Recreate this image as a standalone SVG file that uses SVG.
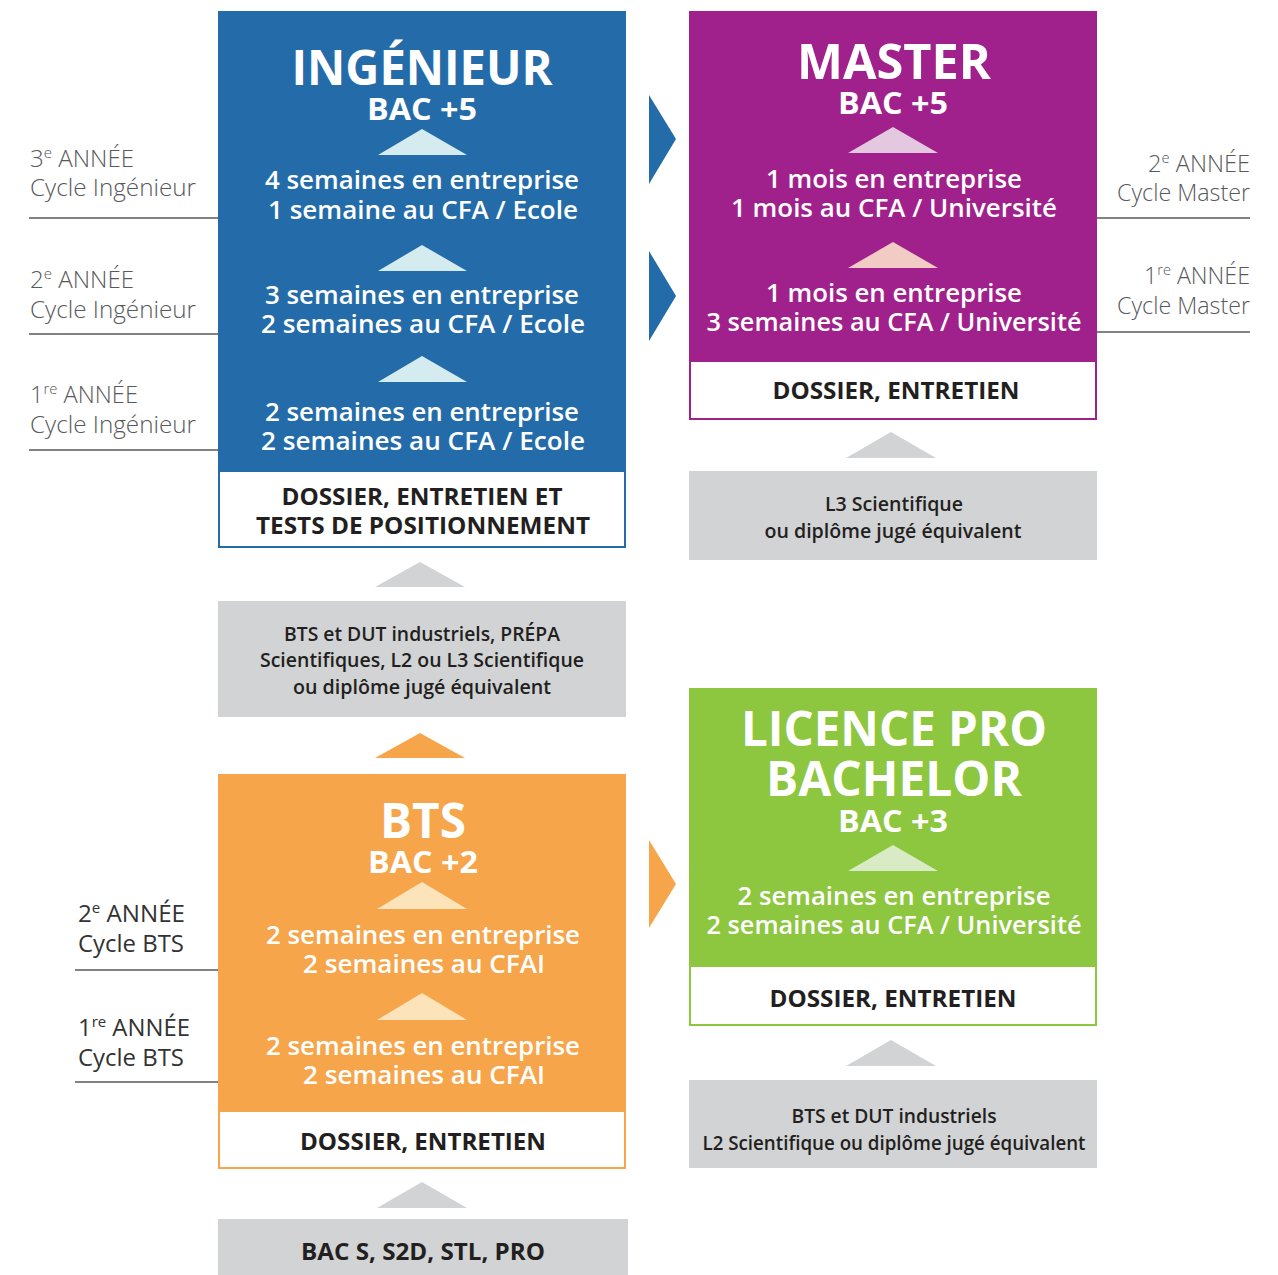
<svg xmlns="http://www.w3.org/2000/svg" width="1278" height="1275" viewBox="0 0 1278 1275">
<style>
text{font-family:"Open Sans","Noto Sans","Liberation Sans",sans-serif;text-anchor:middle}
.t{fill:#fff;font-weight:700;font-size:48px}
.b{fill:#fff;font-weight:700;font-size:30px}
.w{fill:#fff;font-weight:600;font-size:25px}
.d{fill:#231f20;font-weight:700;font-size:23px}
.g{fill:#231f20;font-weight:600;font-size:20px}
.lab{fill:#58595b;font-weight:300;font-size:24px;text-anchor:start}
.labr{fill:#58595b;font-weight:300;font-size:24px;text-anchor:end}
.labb{fill:#333;font-weight:400;font-size:24px;text-anchor:start}
.ln{stroke:#58595b;stroke-width:1.3}
.gt{fill:#d1d3d4}
</style>
<g id="labels-ingenieur">
<text class="lab" x="30" y="167" textLength="104" lengthAdjust="spacingAndGlyphs">3<tspan font-size="15" dy="-9">e</tspan><tspan dy="9"> ANNÉE</tspan></text>
<text class="lab" x="30" y="196" textLength="166" lengthAdjust="spacingAndGlyphs">Cycle Ingénieur</text>
<line class="ln" x1="29" y1="218" x2="218" y2="218"/>
<text class="lab" x="30" y="288" textLength="104" lengthAdjust="spacingAndGlyphs">2<tspan font-size="15" dy="-9">e</tspan><tspan dy="9"> ANNÉE</tspan></text>
<text class="lab" x="30" y="318" textLength="166" lengthAdjust="spacingAndGlyphs">Cycle Ingénieur</text>
<line class="ln" x1="29" y1="334" x2="218" y2="334"/>
<text class="lab" x="30" y="403" textLength="108" lengthAdjust="spacingAndGlyphs">1<tspan font-size="15" dy="-9">re</tspan><tspan dy="9"> ANNÉE</tspan></text>
<text class="lab" x="30" y="433" textLength="166" lengthAdjust="spacingAndGlyphs">Cycle Ingénieur</text>
<line class="ln" x1="29" y1="450" x2="218" y2="450"/>
</g>
<g id="labels-master">
<text class="labr" x="1250" y="172" textLength="102" lengthAdjust="spacingAndGlyphs">2<tspan font-size="15" dy="-9">e</tspan><tspan dy="9"> ANNÉE</tspan></text>
<text class="labr" x="1250" y="201" textLength="133" lengthAdjust="spacingAndGlyphs">Cycle Master</text>
<line class="ln" x1="1097" y1="218" x2="1250" y2="218"/>
<text class="labr" x="1250" y="284" textLength="106" lengthAdjust="spacingAndGlyphs">1<tspan font-size="15" dy="-9">re</tspan><tspan dy="9"> ANNÉE</tspan></text>
<text class="labr" x="1250" y="314" textLength="133" lengthAdjust="spacingAndGlyphs">Cycle Master</text>
<line class="ln" x1="1097" y1="332" x2="1250" y2="332"/>
</g>
<g id="labels-bts">
<text class="labb" x="78" y="922" textLength="107" lengthAdjust="spacingAndGlyphs">2<tspan font-size="15" dy="-9">e</tspan><tspan dy="9"> ANNÉE</tspan></text>
<text class="labb" x="78" y="952" textLength="106" lengthAdjust="spacingAndGlyphs">Cycle BTS</text>
<line class="ln" x1="75" y1="970" x2="218" y2="970"/>
<text class="labb" x="78" y="1036" textLength="112" lengthAdjust="spacingAndGlyphs">1<tspan font-size="15" dy="-9">re</tspan><tspan dy="9"> ANNÉE</tspan></text>
<text class="labb" x="78" y="1066" textLength="106" lengthAdjust="spacingAndGlyphs">Cycle BTS</text>
<line class="ln" x1="75" y1="1082" x2="218" y2="1082"/>
</g>
<g id="ingenieur">
<rect x="218" y="11" width="408" height="461" fill="#236ca9"/>
<rect x="219" y="471" width="406" height="76" fill="#fff" stroke="#236ca9" stroke-width="2"/>
<text class="t" x="422" y="85" textLength="261" lengthAdjust="spacingAndGlyphs">INGÉNIEUR</text>
<text class="b" x="422" y="120" textLength="110" lengthAdjust="spacingAndGlyphs">BAC +5</text>
<polygon points="422,129 467,155 378,155" fill="#d4ecef"/>
<text class="w" x="422" y="189" textLength="314" lengthAdjust="spacingAndGlyphs">4 semaines en entreprise</text>
<text class="w" x="423" y="219" textLength="310" lengthAdjust="spacingAndGlyphs">1 semaine au CFA / Ecole</text>
<polygon points="422,245 467,271 378,271" fill="#d4ecef"/>
<text class="w" x="422" y="304" textLength="314" lengthAdjust="spacingAndGlyphs">3 semaines en entreprise</text>
<text class="w" x="423" y="333" textLength="324" lengthAdjust="spacingAndGlyphs">2 semaines au CFA / Ecole</text>
<polygon points="422,356 467,382 378,382" fill="#d4ecef"/>
<text class="w" x="422" y="421" textLength="314" lengthAdjust="spacingAndGlyphs">2 semaines en entreprise</text>
<text class="w" x="423" y="450" textLength="324" lengthAdjust="spacingAndGlyphs">2 semaines au CFA / Ecole</text>
<text class="d" x="422" y="505" textLength="281" lengthAdjust="spacingAndGlyphs">DOSSIER, ENTRETIEN ET</text>
<text class="d" x="423" y="534" textLength="334" lengthAdjust="spacingAndGlyphs">TESTS DE POSITIONNEMENT</text>
</g>
<g id="master">
<rect x="689" y="11" width="408" height="351" fill="#a0218b"/>
<rect x="690" y="361" width="406" height="58" fill="#fff" stroke="#a0218b" stroke-width="2"/>
<text class="t" x="894" y="79" textLength="194" lengthAdjust="spacingAndGlyphs">MASTER</text>
<text class="b" x="893" y="114" textLength="110" lengthAdjust="spacingAndGlyphs">BAC +5</text>
<polygon points="893,127 938,153 848,153" fill="#e3c8e0"/>
<text class="w" x="894" y="188" textLength="256" lengthAdjust="spacingAndGlyphs">1 mois en entreprise</text>
<text class="w" x="894" y="217" textLength="326" lengthAdjust="spacingAndGlyphs">1 mois au CFA / Université</text>
<polygon points="893,242 938,268 848,268" fill="#f2cbc4"/>
<text class="w" x="894" y="302" textLength="256" lengthAdjust="spacingAndGlyphs">1 mois en entreprise</text>
<text class="w" x="894" y="331" textLength="375" lengthAdjust="spacingAndGlyphs">3 semaines au CFA / Université</text>
<text class="d" x="896" y="399" textLength="247" lengthAdjust="spacingAndGlyphs">DOSSIER, ENTRETIEN</text>
</g>
<g id="l3">
<rect x="689" y="471" width="408" height="89" fill="#d1d3d4"/>
<text class="g" x="894" y="511" textLength="138" lengthAdjust="spacingAndGlyphs">L3 Scientifique</text>
<text class="g" x="893" y="538" textLength="257" lengthAdjust="spacingAndGlyphs">ou diplôme jugé équivalent</text>
</g>
<g id="prerequis-ingenieur">
<rect x="218" y="601" width="408" height="116" fill="#d1d3d4"/>
<text class="g" x="422" y="641" textLength="276" lengthAdjust="spacingAndGlyphs">BTS et DUT industriels, PRÉPA</text>
<text class="g" x="422" y="667" textLength="324" lengthAdjust="spacingAndGlyphs">Scientifiques, L2 ou L3 Scientifique</text>
<text class="g" x="422" y="694" textLength="258" lengthAdjust="spacingAndGlyphs">ou diplôme jugé équivalent</text>
</g>
<g id="bts">
<rect x="218" y="774" width="408" height="338" fill="#f7a54b"/>
<rect x="219" y="1111" width="406" height="57" fill="#fff" stroke="#f7a54b" stroke-width="2"/>
<text class="t" x="423" y="838" textLength="86" lengthAdjust="spacingAndGlyphs">BTS</text>
<text class="b" x="423" y="873" textLength="110" lengthAdjust="spacingAndGlyphs">BAC +2</text>
<polygon points="422,882 467,909 377,909" fill="#fce3b9"/>
<text class="w" x="423" y="944" textLength="314" lengthAdjust="spacingAndGlyphs">2 semaines en entreprise</text>
<text class="w" x="424" y="973" textLength="242" lengthAdjust="spacingAndGlyphs">2 semaines au CFAI</text>
<polygon points="422,993 467,1020 377,1020" fill="#fce3b9"/>
<text class="w" x="423" y="1055" textLength="314" lengthAdjust="spacingAndGlyphs">2 semaines en entreprise</text>
<text class="w" x="424" y="1084" textLength="242" lengthAdjust="spacingAndGlyphs">2 semaines au CFAI</text>
<text class="d" x="423" y="1150" textLength="246" lengthAdjust="spacingAndGlyphs">DOSSIER, ENTRETIEN</text>
</g>
<g id="bac">
<rect x="218" y="1219" width="410" height="56" fill="#d1d3d4"/>
<text class="d" x="423" y="1260" font-size="22" textLength="244" lengthAdjust="spacingAndGlyphs">BAC S, S2D, STL, PRO</text>
</g>
<g id="licence">
<rect x="689" y="688" width="408" height="279" fill="#8dc63f"/>
<rect x="690" y="966" width="406" height="59" fill="#fff" stroke="#8dc63f" stroke-width="2"/>
<text class="t" x="894" y="746" textLength="306" lengthAdjust="spacingAndGlyphs">LICENCE PRO</text>
<text class="t" x="894" y="796" textLength="256" lengthAdjust="spacingAndGlyphs">BACHELOR</text>
<text class="b" x="893" y="832" textLength="110" lengthAdjust="spacingAndGlyphs">BAC +3</text>
<polygon points="893,845 938,871 848,871" fill="#d9ebc5"/>
<text class="w" x="894" y="905" textLength="313" lengthAdjust="spacingAndGlyphs">2 semaines en entreprise</text>
<text class="w" x="894" y="934" textLength="375" lengthAdjust="spacingAndGlyphs">2 semaines au CFA / Université</text>
<text class="d" x="893" y="1007" textLength="247" lengthAdjust="spacingAndGlyphs">DOSSIER, ENTRETIEN</text>
</g>
<g id="prerequis-licence">
<rect x="689" y="1080" width="408" height="88" fill="#d1d3d4"/>
<text class="g" x="894" y="1123" textLength="205" lengthAdjust="spacingAndGlyphs">BTS et DUT industriels</text>
<text class="g" x="894" y="1150" textLength="383" lengthAdjust="spacingAndGlyphs">L2 Scientifique ou diplôme jugé équivalent</text>
</g>
<g id="connectors">
<polygon points="649,95 676,139 649,184" fill="#236ca9"/>
<polygon points="649,251 676,296 649,341" fill="#236ca9"/>
<polygon points="649,840 676,884 649,928" fill="#f7a54b"/>
<polygon class="gt" points="891,432 936,458 846,458"/>
<polygon class="gt" points="420,562 465,587 375,587"/>
<polygon points="420,733 465,758 375,758" fill="#f7a54b"/>
<polygon class="gt" points="422,1182 467,1208 377,1208"/>
<polygon class="gt" points="891,1040 936,1066 846,1066"/>
</g>
</svg>
